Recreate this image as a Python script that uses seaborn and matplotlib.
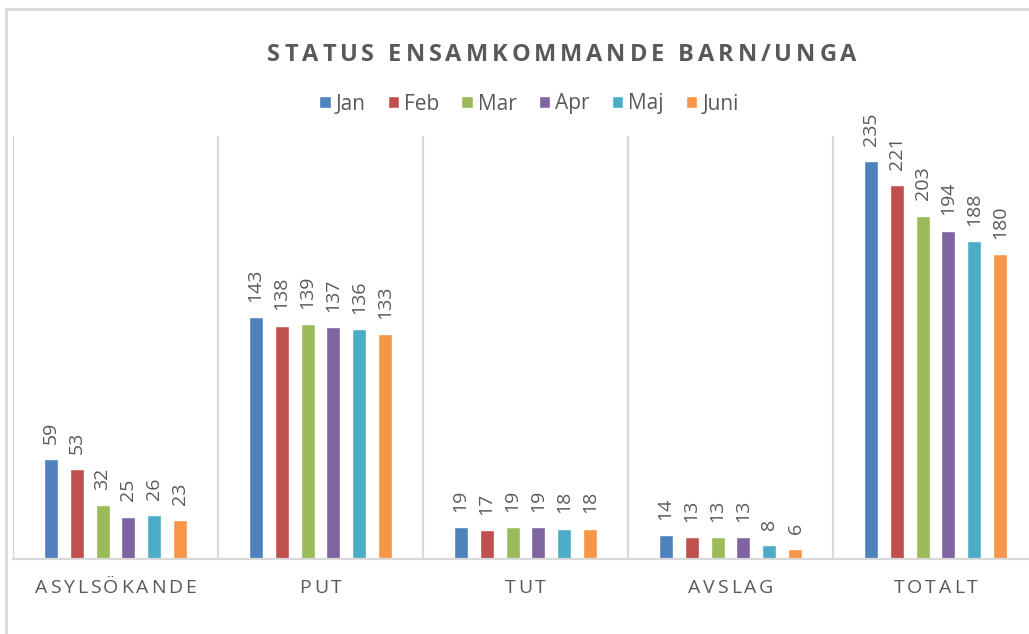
import numpy as np
import pandas as pd
import seaborn as sns
import matplotlib.pyplot as plt
import matplotlib.transforms as mtransforms
from matplotlib.lines import Line2D

# =====================================================================
#   Dados
# =====================================================================

categories = ["ASYLSÖKANDE", "PUT", "TUT", "AVSLAG", "TOTALT"]
months = ["Jan", "Feb", "Mar", "Apr", "Maj", "Juni"]

jan = [59, 143, 19, 14, 235]
feb = [53, 138, 17, 13, 221]
mar = [32, 139, 19, 13, 203]
apr = [25, 137, 19, 13, 194]
maj = [26, 136, 18, 8, 188]
juni = [23, 133, 18, 6, 180]

title = "STATUS ENSAMKOMMANDE BARN/UNGA"

colors = ["#4F81BD", "#C0504D", "#9BBB59", "#8064A2", "#4BACC6", "#F79646"]
TEXT_COLOR = "#595959"
LINE_COLOR = "#D9D9D9"

W, H, DPI = 1029, 634, 100

rows = []
for m, vals in zip(months, [jan, feb, mar, apr, maj, juni]):
    for c, v in zip(categories, vals):
        rows.append({"Kategori": c, "Månad": m, "Antal": v})
df = pd.DataFrame(rows)

# =====================================================================
#   Plot
# =====================================================================

sns.set_style("white")
plt.rcParams["font.family"] = ["Open Sans", "DejaVu Sans"]

fig = plt.figure(figsize=(W / DPI, H / DPI), dpi=DPI)
# area de plotagem: a ultima categoria passa um pouco da borda direita
ax = fig.add_axes([13 / W, 75 / H, 1025 / W, 423 / H])

sns.barplot(
    data=df, x="Kategori", y="Antal", hue="Månad",
    order=categories, hue_order=months,
    palette=colors, saturation=1,
    width=0.76, gap=0.46, ax=ax,
)

for container in ax.containers:
    ax.bar_label(container, rotation=90, padding=11, fontsize=14, color=TEXT_COLOR)

ax.set_ylim(0, 250)
ax.set_xlim(-0.5, len(categories) - 0.5)
ax.set_xlabel("")
ax.set_ylabel("")
ax.set_yticks([])
ax.set_xticks(range(len(categories)))
ax.set_xticklabels([])
ax.tick_params(axis="x", length=0)

# separadores verticais entre categorias
ax.set_axisbelow(True)
ax.set_xticks(np.arange(-0.5, len(categories), 1.0), minor=True)
ax.tick_params(axis="x", which="minor", length=0)
ax.grid(axis="x", which="minor", color=LINE_COLOR, linewidth=1.6)
ax.grid(axis="x", which="major", visible=False)

for s in ["top", "right", "left"]:
    ax.spines[s].set_visible(False)
ax.spines["bottom"].set_color(LINE_COLOR)
ax.spines["bottom"].set_linewidth(1.6)

# legenda
handles, labels = ax.get_legend_handles_labels()
ax.legend(
    handles, labels, loc="center", ncol=6, frameon=False,
    bbox_to_anchor=(529 / W, (H - 104) / H), bbox_transform=fig.transFigure,
    fontsize=15, labelcolor=TEXT_COLOR,
    handlelength=0.55, handleheight=0.55, handletextpad=0.25, columnspacing=1.05,
)

# borda externa do grafico
px = mtransforms.IdentityTransform()
fig.add_artist(Line2D([6, 6], [0, H - 9], transform=px, color=LINE_COLOR, linewidth=2))
fig.add_artist(Line2D([6, W], [H - 9, H - 9], transform=px, color=LINE_COLOR, linewidth=2))


def spaced_text(text, x_center, y_base, spacing, **kw):
    """Texto com espacamento entre letras (estilo Excel)."""
    r = fig.canvas.get_renderer()
    size = kw.get("fontsize", 12)
    widths = []
    for ch in text:
        if ch == " ":
            widths.append(0.26 * size * DPI / 72)
            continue
        t = fig.text(0, 0, ch, transform=px, **kw)
        widths.append(t.get_window_extent(r).width)
        t.remove()
    total = sum(widths) + spacing * (len(text) - 1)
    x = x_center - total / 2
    for ch, w in zip(text, widths):
        if ch != " ":
            fig.text(x, y_base, ch, transform=px, ha="left", va="baseline", **kw)
        x += w + spacing


spaced_text(title, 562, H - 61, 3.9, fontsize=17, fontweight="bold", color=TEXT_COLOR)

for i, cat in enumerate(categories):
    xc = ax.transData.transform((i, 0))[0]
    spaced_text(cat, xc, H - 593, 2.8, fontsize=14, color=TEXT_COLOR)

fig.savefig("out.png", dpi=DPI)
